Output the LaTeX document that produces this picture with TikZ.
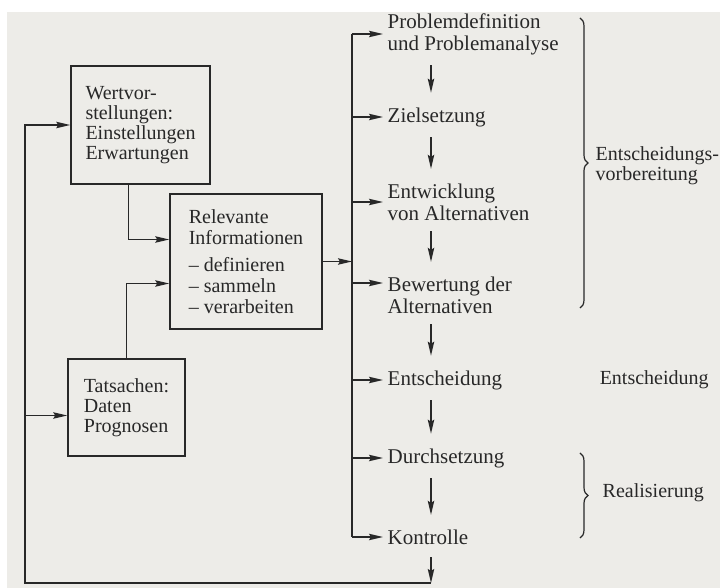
\documentclass[tikz,border=0pt]{standalone}
\usepackage{fontspec}
\setmainfont{Liberation Serif}
\usepackage{tikz}
\usetikzlibrary{arrows.meta, calc}
\usetikzlibrary{decorations.pathreplacing}
\definecolor{paper}{RGB}{237,236,232}
\definecolor{ink}{RGB}{40,40,40}

\begin{document}
\begin{tikzpicture}[x=0.5pt, y=-0.5pt, line width=0.75pt, color=ink,
  box/.style={draw, align=left, inner sep=0pt, font=\fontsize{10}{10}\selectfont},
  stepnode/.style={anchor=west, align=left, inner xsep=2pt, inner ysep=2pt, font=\fontsize{10.5}{11}\selectfont},
  sidelabel/.style={anchor=west, align=left, inner sep=0pt, font=\fontsize{10}{10}\selectfont},
  flow/.style={-{Stealth[length=7pt,width=3.2pt,inset=1pt]}},
  curly/.style={decorate, decoration={brace, amplitude=4pt}, line width=0.6pt}]

  % page
  \fill[white] (0,0) rectangle (720,588);
  \fill[paper] (7,12) rectangle (720,588);
  \useasboundingbox (0,0) rectangle (720,588);

  % boxes on the left
  \node[box, minimum width=69.5pt, minimum height=59pt] (wert) at (140.5,125)
    {Wertvor-\\stellungen:\\Einstellungen\\Erwartungen};
  \node[box, minimum width=76pt, minimum height=67.5pt, font=\fontsize{10}{10.5}\selectfont] (rel) at (246,261.5)
    {Relevante\\Informationen\\[3pt]-- definieren\\-- sammeln\\-- verarbeiten};
  \node[box, minimum width=58.5pt, minimum height=48.5pt] (tat) at (126.5,407.5)
    {Tatsachen:\\Daten\\Prognosen};

  % steps of the process
  \node[stepnode] (prob) at (383,34) {Problemdefinition\\und Problemanalyse};
  \node[stepnode] (ziel) at (383,117) {Zielsetzung};
  \node[stepnode] (entw) at (383,202) {Entwicklung\\von Alternativen};
  \node[stepnode] (bew) at (383,295) {Bewertung der\\Alternativen};
  \node[stepnode] (ents) at (383,380) {Entscheidung};
  \node[stepnode] (durch) at (383,458) {Durchsetzung};
  \node[stepnode] (kon) at (383,537) {Kontrolle};

  % arrows down the steps
  \coordinate (col) at (431,0);
  \foreach \a/\b in {prob/ziel, ziel/entw, entw/bew, bew/ents, ents/durch, durch/kon}
    \draw[flow, shorten <=3pt, shorten >=5pt] (col |- \a.south) -- (col |- \b.north);

  % feedback loop
  \coordinate (loopR) at (431,583);
  \coordinate (loopL) at (25,583);
  \draw[flow, shorten <=4pt] (col |- kon.south) -- (loopR);
  \draw[flow] (loopR) -- (loopL) |- (wert.west);
  \coordinate (tatin) at ([yshift=-4pt]tat.west);
  \draw[flow] (loopL |- tatin) -- (tatin);

  % into the information box
  \draw[flow] ([xshift=-6pt]wert.south) |- ([yshift=11pt]rel.west);
  \draw[flow] (tat.north) |- ([yshift=-11pt]rel.west);

  % bus to the steps
  \coordinate (bus) at (352,0);
  \draw[flow] (rel.east) -- (bus |- rel.east);
  \draw (bus |- prob.west) -- (bus |- kon.west);
  \foreach \n in {prob, ziel, entw, ents, durch, kon}
    \draw[flow] (bus |- \n.west) -- (\n.west);
  \coordinate (bewin) at ([yshift=6pt]bew.west);
  \draw[flow] (bus |- bewin) -- (bewin);

  % phases
  \coordinate (vorbA) at (580,18);
  \coordinate (vorbB) at (580,308);
  \draw[curly] (vorbA) -- (vorbB);
  \node[sidelabel] (vorb) at (595,166) {Entscheidungs-\\vorbereitung};
  \node[sidelabel] (entsl) at (599,380) {Entscheidung};
  \coordinate (realA) at (580,453);
  \coordinate (realB) at (580,538);
  \draw[curly] (realA) -- (realB);
  \node[sidelabel] (real) at (602,493) {Realisierung};
\end{tikzpicture}
\end{document}
